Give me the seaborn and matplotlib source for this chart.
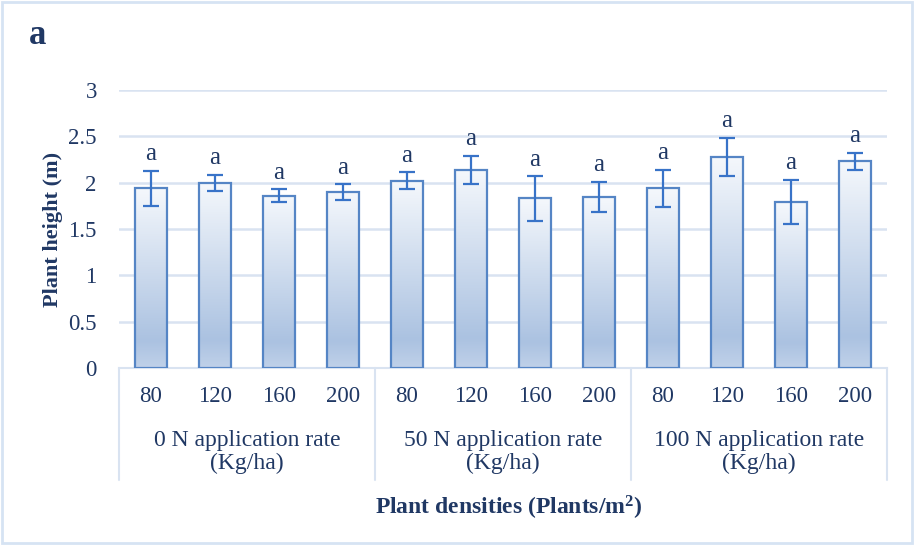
import numpy as np
import matplotlib.pyplot as plt
import seaborn as sns
import pandas as pd
from matplotlib.colors import LinearSegmentedColormap
from matplotlib.patches import Rectangle

# data
groups = ["0 N application rate\n(Kg/ha)", "50 N application rate\n(Kg/ha)",
          "100 N application rate\n(Kg/ha)"]
densities = ["80", "120", "160", "200"]
height = [1.94, 2.00, 1.86, 1.90,
          2.02, 2.14, 1.83, 1.845,
          1.94, 2.28, 1.79, 2.23]
err = [0.19, 0.085, 0.07, 0.085,
       0.09, 0.15, 0.24, 0.165,
       0.20, 0.205, 0.24, 0.09]
letters = ["a"] * 12

df = pd.DataFrame({
    "group": np.repeat(groups, len(densities)),
    "density": densities * len(groups),
    "height": height,
    "err": err,
})
df["key"] = [f"{g}|{d}" for g, d in zip(df["group"], df["density"])]

sns.set_theme(style="white")
plt.rcParams["font.family"] = ["Liberation Serif", "DejaVu Serif"]
plt.rcParams["mathtext.fontset"] = "custom"
plt.rcParams["mathtext.bf"] = "Liberation Serif:bold"

navy = "#203864"
grid_c = "#D9E3F1"
edge_c = "#5585C5"
err_c = "#3873C8"

fig = plt.figure(figsize=(9.16, 5.45), dpi=100)
ax = fig.add_axes([119 / 916, 1 - 368 / 545, 768 / 916, 278 / 545])

sns.barplot(data=df, x="key", y="height", order=list(df["key"]), width=0.5,
            color="white", edgecolor=edge_c, linewidth=1.6, ax=ax, zorder=3)

# vertical gradient fill inside each bar
cmap = LinearSegmentedColormap.from_list(
    "grad", [(0, "#F5F8FC"), (0.85, "#ABC2E1"), (1.0, "#C0D1E9")])
grad = np.linspace(0, 1, 256).reshape(-1, 1)
for p in ax.patches:
    x0, w, h = p.get_x(), p.get_width(), p.get_height()
    im = ax.imshow(grad, extent=[x0, x0 + w, 0, h], origin="upper",
                   aspect="auto", cmap=cmap, zorder=2.5, interpolation="bilinear")
    im.set_clip_path(p)
    p.set_facecolor("none")

pos = np.arange(len(df))
ax.errorbar(pos, df["height"], yerr=df["err"], fmt="none", ecolor=err_c,
            elinewidth=1.6, capsize=5.5, capthick=1.6, zorder=4)
for x, top, lab in zip(pos, df["height"] + df["err"], letters):
    ax.annotate(lab, (x, top), xytext=(0, 4), textcoords="offset points",
                ha="center", va="bottom", fontsize=18, color=navy)

ax.set_xlim(-0.5, len(df) - 0.5)
ax.set_ylim(0, 3)
ax.set_yticks(np.arange(0, 3.01, 0.5))
ax.set_yticklabels(["0", "0.5", "1", "1.5", "2", "2.5", "3"])
ax.yaxis.grid(True, color=grid_c, linewidth=1.8, zorder=0)
ax.set_axisbelow(True)
for s in ["top", "right", "left"]:
    ax.spines[s].set_visible(False)
ax.spines["bottom"].set_color(grid_c)
ax.spines["bottom"].set_linewidth(1.5)

ax.set_xticks(pos)
ax.set_xticklabels(df["density"])
ax.tick_params(axis="x", length=0, pad=13, labelsize=16.5, labelcolor=navy)
ax.tick_params(axis="y", length=0, pad=16, labelsize=16.5, labelcolor=navy)
ax.set_xlabel("")
ax.set_ylabel("Plant height (m)", fontsize=16, fontweight="bold", color=navy,
              labelpad=4)

# grouped category axis
trans = ax.get_xaxis_transform()
n = len(densities)
for i in range(len(groups) + 1):
    xb = i * n - 0.5
    ax.plot([xb, xb], [0, -112 / 278], transform=trans, color=grid_c,
            linewidth=1.5, clip_on=False)
for i, g in enumerate(groups):
    ax.text(i * n + (n - 1) / 2, -84 / 278, g, transform=trans, ha="center",
            va="center", fontsize=17, color=navy, linespacing=1.12)

fig.text(509 / 916, 1 - 508 / 545, r"Plant densities (Plants/m$\mathbf{^2}$)",
         ha="center", va="center", fontsize=17, fontweight="bold", color=navy)
fig.text(29 / 916, 1 - 35 / 545, "a", ha="left", va="center", fontsize=25,
         fontweight="bold", color=navy)

fig.patches.append(Rectangle((0.002, 0.003), 0.994, 0.993, transform=fig.transFigure,
                             fill=False, edgecolor="#D6E3F3", linewidth=2))

fig.savefig("out.png", dpi=100)
